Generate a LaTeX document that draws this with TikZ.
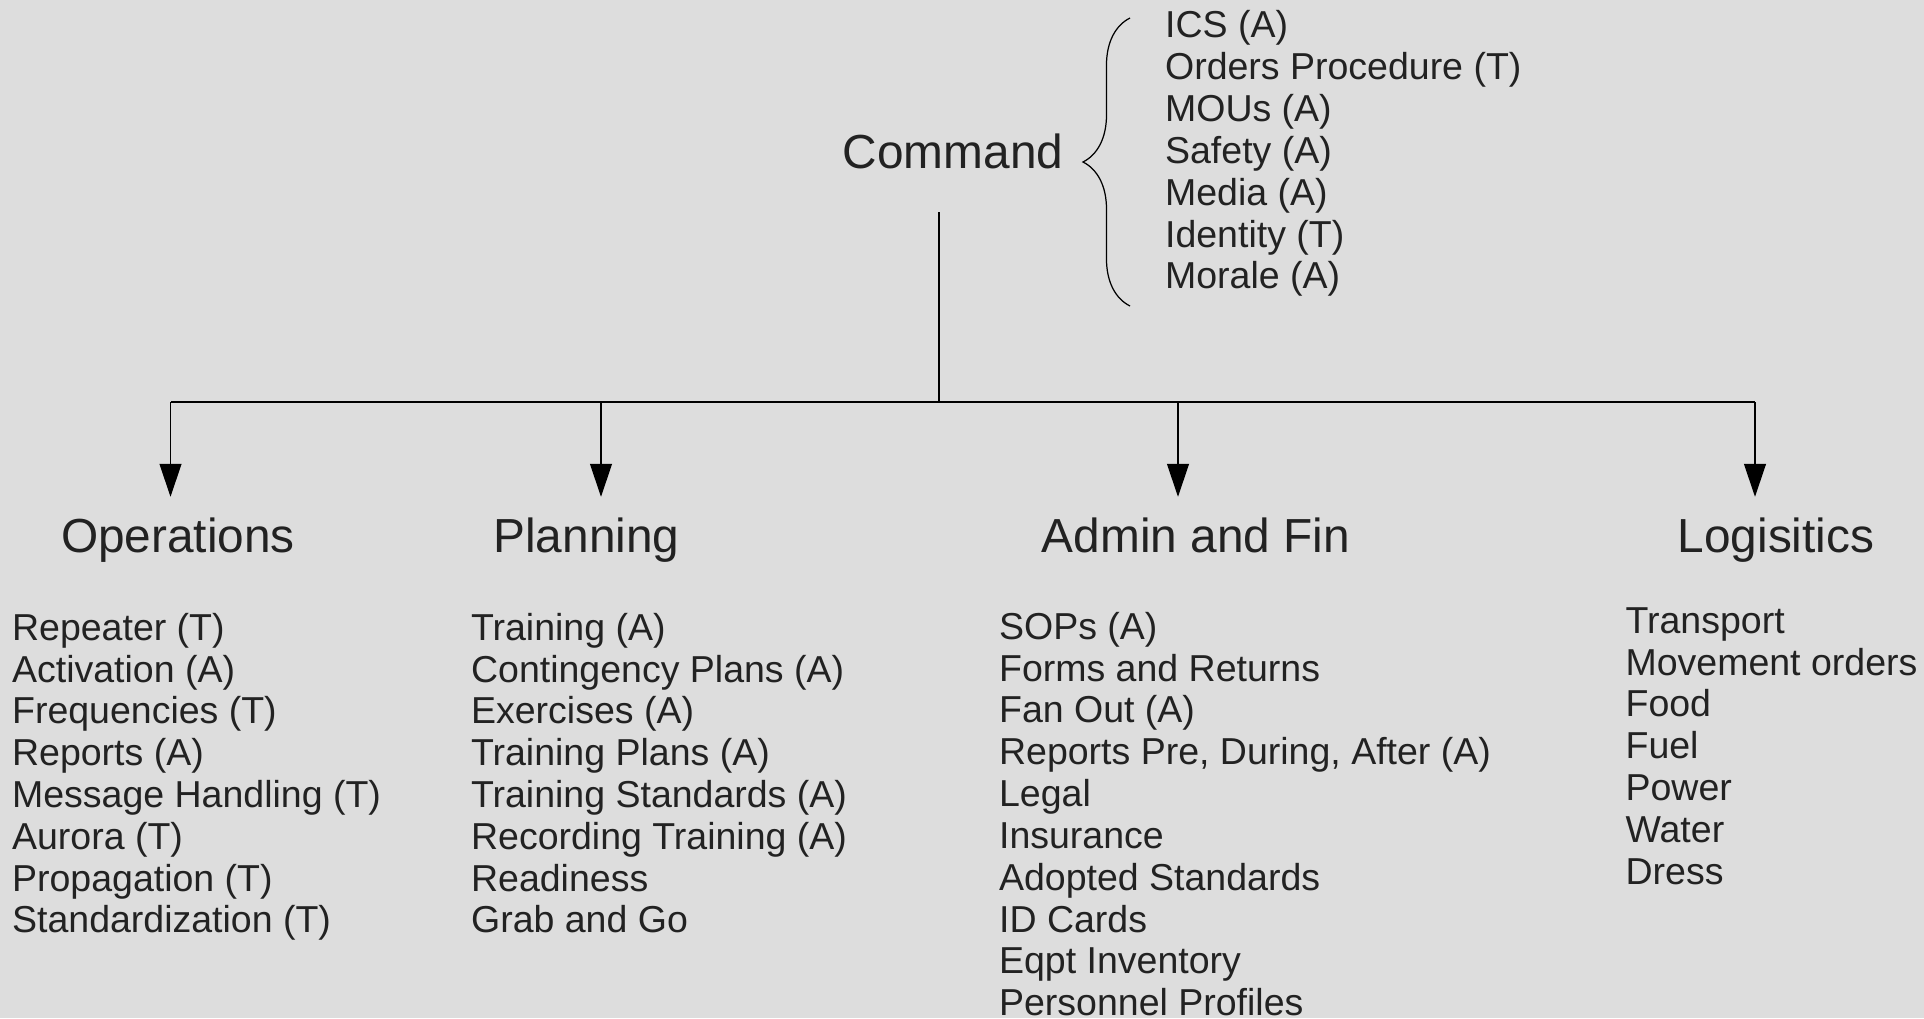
\documentclass[tikz,border=0pt]{standalone}
\usepackage{fontspec}
\setmainfont{Liberation Sans}
\usepackage{xcolor}
\usepackage{tikz}
\usetikzlibrary{arrows.meta}
\usetikzlibrary{decorations.pathreplacing}
\definecolor{bggray}{HTML}{DDDDDD}
\definecolor{inkgray}{HTML}{222222}
\tikzset{
    headnode/.style = {anchor=base, inner sep=0, text=inkgray, font=\fontsize{13.6}{16}\selectfont},
    listnode/.style = {anchor=north west, align=left, inner sep=0, text=inkgray, font=\fontsize{10.67}{11.9}\selectfont},
}

\begin{document}
\begin{tikzpicture}[
	line width=0.35pt
]
\tikzset{
    edgen/.style = {-},
    edgea/.style = {-{Triangle[length=3.3mm,width=2.2mm]}, shorten >=2mm},
    edgeb/.style = {decorate, decoration={brace, amplitude=4.7mm}}
}
\fill[bggray] (0,0) rectangle (19.24,-10.18);
\useasboundingbox (0,0) rectangle (19.24,-10.18);
% command
\node[headnode] at (9.53,-1.683) (cmd) {Command};
\node[listnode] at (11.645,-0.101) (cmdl) {ICS (A)\\Orders Procedure (T)\\MOUs (A)\\Safety (A)\\Media (A)\\Identity (T)\\Morale (A)};
\coordinate (brt) at (11.30,-0.18);
\coordinate (brb) at (11.30,-3.06);
\draw[edgeb] (brb) -- (brt);
% sections
\node[headnode] at (1.78,-5.52) (ops) {Operations};
\node[headnode] at (5.865,-5.52) (pln) {Planning};
\node[headnode] at (11.96,-5.52) (adm) {Admin and Fin};
\node[headnode] at (17.76,-5.52) (log) {Logisitics};
%
\node[listnode] at (0.115,-6.124) (opsl) {Repeater (T)\\Activation (A)\\Frequencies (T)\\Reports (A)\\Message Handling (T)\\Aurora (T)\\Propagation (T)\\Standardization (T)};
\node[listnode] at (4.705,-6.124) (plnl) {Training (A)\\Contingency Plans (A)\\Exercises (A)\\Training Plans (A)\\Training Standards (A)\\Recording Training (A)\\Readiness\\Grab and Go};
\node[listnode] at (9.985,-6.115) (adml) {SOPs (A)\\Forms and Returns\\Fan Out (A)\\Reports Pre, During, After (A)\\Legal\\Insurance\\Adopted Standards\\ID Cards\\Eqpt Inventory\\Personnel Profiles};
\node[listnode] at (16.25,-6.069) (logl) {Transport\\Movement orders\\Food\\Fuel\\Power\\Water\\Dress};
% connectors
\coordinate (bus) at (9.39,-4.02);
\coordinate (b1) at (1.705,-4.02);
\coordinate (b2) at (6.01,-4.02);
\coordinate (b3) at (11.78,-4.02);
\coordinate (b4) at (17.55,-4.02);
\draw[edgen, shorten <=4.3mm] (cmd.south -| bus) -- (bus);
\draw[edgen] (b1) -- (b4);
\draw[edgea] (b1) -- (b1 |- ops.north);
\draw[edgea] (b2) -- (b2 |- pln.north);
\draw[edgea] (b3) -- (b3 |- adm.north);
\draw[edgea] (b4) -- (b4 |- log.north);
\end{tikzpicture}
\end{document}
